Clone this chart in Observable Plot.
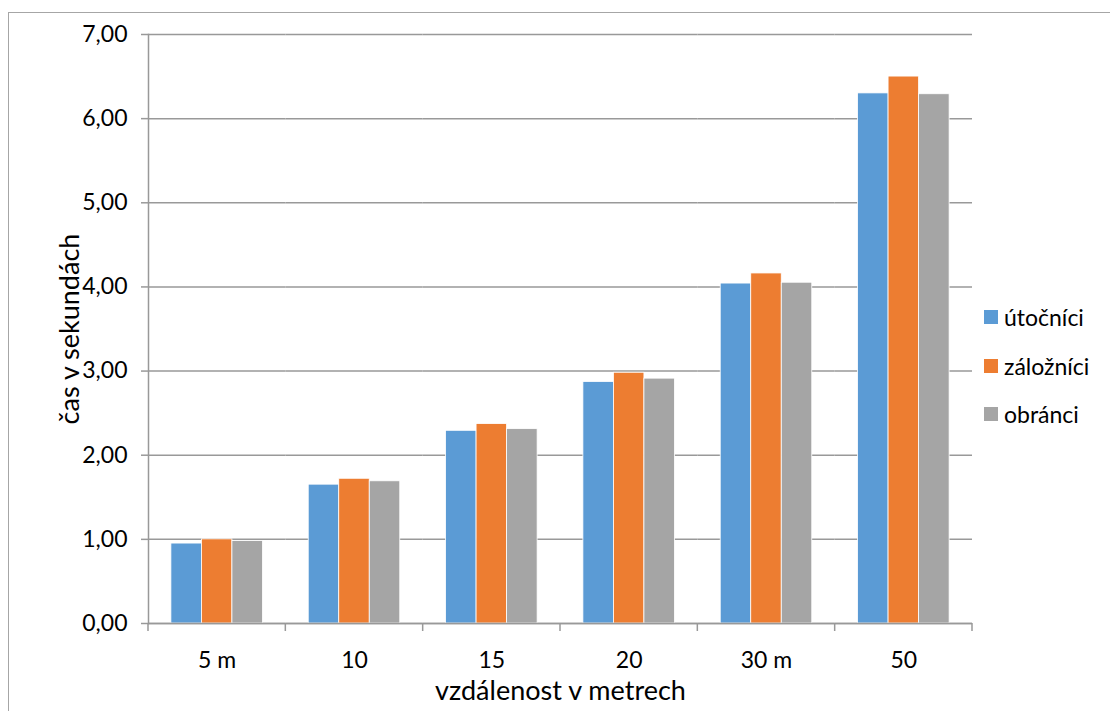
<!DOCTYPE html>
<html><head><meta charset="utf-8">
<script src="https://cdn.jsdelivr.net/npm/d3@7"></script>
<script src="https://cdn.jsdelivr.net/npm/@observablehq/plot@0.6"></script>
<style>
body{margin:0;background:#fff;overflow:hidden;font-family:Lato,sans-serif}
#wrap{position:relative;width:1110px;height:711px;overflow:hidden;background:#fff}
#border{position:absolute;left:8px;top:12px;width:1300px;height:900px;border:1.5px solid #a6a6a6}
#chart{position:absolute;left:0;top:0}
#legend{position:absolute;left:984px;top:293px;width:130px}
#legend .lg-swatch{height:48.5px;display:flex;align-items:center;font-size:23px;font-family:Lato,sans-serif;color:#000;padding:0;margin:0}
#legend .lg-swatch svg{margin-right:6px}
#legend .lg-swatches-columns{columns:1!important;margin:0}
</style></head><body>
<div id="wrap"><div id="border"></div><div id="chart"></div><div id="legend"></div></div>
<script>
const categories = ["5 m", "10", "15", "20", "30 m", "50"];
const series = ["útočníci", "záložníci", "obránci"];
const utocnici = [0.95, 1.65, 2.29, 2.87, 4.04, 6.30];
const zaloznici = [1.00, 1.72, 2.37, 2.98, 4.16, 6.50];
const obranci = [0.98, 1.69, 2.31, 2.91, 4.05, 6.29];
const colors = ["#5B9BD5", "#ED7D31", "#A5A5A5"];
const yTicks = [0, 1, 2, 3, 4, 5, 6, 7];
const xTitle = "vzdálenost v metrech";
const yTitle = "čas v sekundách";

const valuesBySeries = [utocnici, zaloznici, obranci];
const data = categories.flatMap((c, i) => series.map((s, j) => ({category: c, series: s, value: valuesBySeries[j][i]})));

const fmt = d => d3.format(".2f")(d).replace(".", ",");
const gridColor = "#999";

const chart = Plot.plot({
  width: 1110, height: 711,
  marginLeft: 148, marginRight: 138, marginTop: 34, marginBottom: 88,
  style: {fontFamily: "Lato, sans-serif", fontSize: "23px", color: "#000", background: "transparent"},
  fx: {domain: categories, paddingInner: 0, paddingOuter: 0, round: false, label: null},
  x: {domain: series, paddingInner: 0, paddingOuter: 0.75, round: false, axis: null},
  y: {domain: [0, 7]},
  color: {domain: series, range: colors},
  marks: [
    Plot.gridY(yTicks, {stroke: gridColor, strokeOpacity: 1, strokeWidth: 1.5}),
    Plot.barY(data, {fx: "category", x: "series", y: "value", fill: "series", stroke: "white", strokeWidth: 0.8}),
    Plot.ruleY([0], {stroke: gridColor, strokeWidth: 1.5}),
    Plot.frame({anchor: "left", facetAnchor: "left", stroke: gridColor, strokeWidth: 1.5}),
    Plot.axisY(yTicks, {tickSize: 7, tickPadding: 14, tickFormat: fmt, stroke: gridColor, strokeWidth: 1.5,
      label: yTitle, labelAnchor: "center", labelArrow: "none", labelOffset: 89}),
    Plot.axisFx({anchor: "bottom", tickSize: 0, tickPadding: 28, label: xTitle, labelAnchor: "center", labelArrow: "none", labelOffset: 76})
  ]
});
document.getElementById("chart").appendChild(chart);

// axis titles slightly larger than tick labels
d3.select(chart).selectAll('g[aria-label="y-axis label"], g[aria-label="fx-axis label"]').attr("font-size", "27px");

// boundary ticks under the category axis, from the fx scale
const fx = chart.scale("fx");
const bounds = categories.map(c => fx.apply(c)).concat([fx.apply(categories[categories.length - 1]) + fx.bandwidth]);
const yScale = chart.scale("y");
const y0 = yScale.apply(0);
d3.select(chart).append("g").selectAll("line").data(bounds).join("line")
  .attr("x1", d => d).attr("x2", d => d).attr("y1", y0).attr("y2", y0 + 8)
  .attr("stroke", gridColor).attr("stroke-width", 1.5);

const legend = Plot.legend({color: {domain: series, range: colors}, legend: "swatches", columns: 1, swatchSize: 14, className: "lg"});
document.getElementById("legend").appendChild(legend);
</script>
</body></html>
